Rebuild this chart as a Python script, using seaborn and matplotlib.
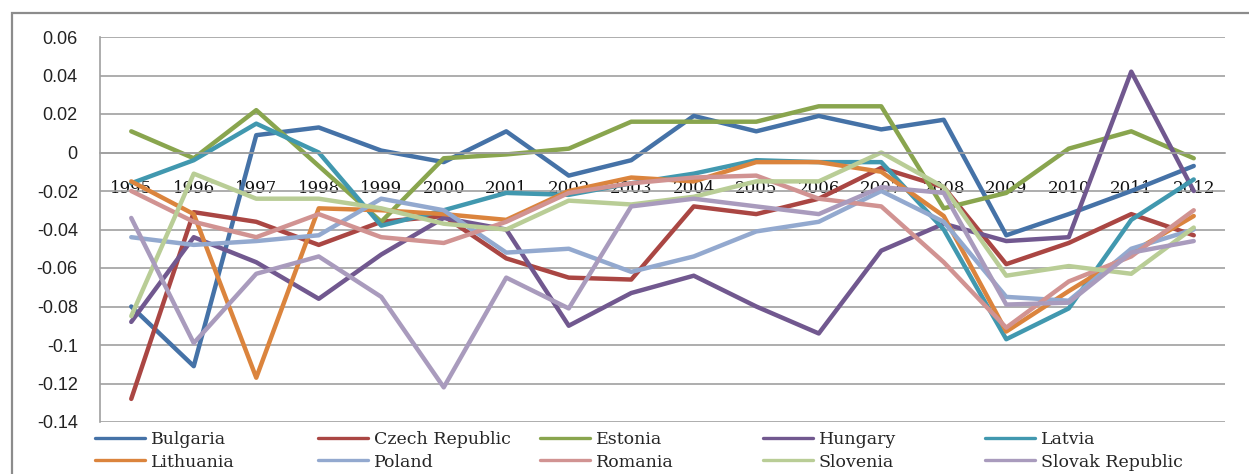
import numpy as np
import pandas as pd
import matplotlib
matplotlib.use("Agg")
import matplotlib.pyplot as plt
import seaborn as sns
from matplotlib.lines import Line2D
from matplotlib.patches import Rectangle

years = ["1995", "1996", "1997", "1998", "1999", "2000", "2001", "2002", "2003",
         "2004", "2005", "2006", "2007", "2008", "2009", "2010", "2011", "2012"]

countries = ["Bulgaria", "Czech Republic", "Estonia", "Hungary", "Latvia",
             "Lithuania", "Poland", "Romania", "Slovenia", "Slovak Republic"]

bulgaria = [-0.080, -0.111, 0.009, 0.013, 0.001, -0.005, 0.011, -0.012, -0.004,
            0.019, 0.011, 0.019, 0.012, 0.017, -0.043, -0.032, -0.020, -0.007]
czech = [-0.128, -0.031, -0.036, -0.048, -0.036, -0.033, -0.055, -0.065, -0.066,
         -0.028, -0.032, -0.024, -0.008, -0.018, -0.058, -0.047, -0.032, -0.043]
estonia = [0.011, -0.003, 0.022, -0.007, -0.036, -0.003, -0.001, 0.002, 0.016,
           0.016, 0.016, 0.024, 0.024, -0.029, -0.021, 0.002, 0.011, -0.003]
hungary = [-0.088, -0.044, -0.057, -0.076, -0.053, -0.034, -0.040, -0.090, -0.073,
           -0.064, -0.080, -0.094, -0.051, -0.037, -0.046, -0.044, 0.042, -0.020]
latvia = [-0.016, -0.004, 0.015, 0.000, -0.038, -0.030, -0.021, -0.022, -0.016,
          -0.011, -0.004, -0.005, -0.005, -0.040, -0.097, -0.081, -0.035, -0.014]
lithuania = [-0.015, -0.032, -0.117, -0.029, -0.030, -0.032, -0.035, -0.020, -0.013,
             -0.015, -0.005, -0.005, -0.010, -0.033, -0.093, -0.072, -0.052, -0.033]
poland = [-0.044, -0.048, -0.046, -0.043, -0.024, -0.030, -0.052, -0.050, -0.062,
          -0.054, -0.041, -0.036, -0.020, -0.036, -0.075, -0.077, -0.050, -0.040]
romania = [-0.020, -0.036, -0.044, -0.032, -0.044, -0.047, -0.036, -0.021, -0.016,
           -0.013, -0.012, -0.024, -0.028, -0.057, -0.091, -0.067, -0.054, -0.030]
slovenia = [-0.085, -0.011, -0.024, -0.024, -0.029, -0.037, -0.040, -0.025, -0.027,
            -0.023, -0.015, -0.015, 0.000, -0.018, -0.064, -0.059, -0.063, -0.039]
slovak = [-0.034, -0.099, -0.063, -0.054, -0.075, -0.122, -0.065, -0.081, -0.028,
          -0.024, -0.028, -0.032, -0.018, -0.021, -0.079, -0.078, -0.052, -0.046]

series = [bulgaria, czech, estonia, hungary, latvia,
          lithuania, poland, romania, slovenia, slovak]

colors = ["#4572A7", "#AA4643", "#89A54E", "#71588F", "#4198AF",
          "#DB843D", "#93A9CF", "#D19392", "#B9CD96", "#A99BBD"]

yticks = [0.06, 0.04, 0.02, 0, -0.02, -0.04, -0.06, -0.08, -0.1, -0.12, -0.14]

rows = []
for name, vals in zip(countries, series):
    for i, v in enumerate(vals):
        rows.append({"pos": i, "year": years[i], "value": v, "country": name})
df = pd.DataFrame(rows)

sns.set_style("white")
plt.rcParams["font.family"] = ["Liberation Sans", "DejaVu Sans"]

W, H = 1249, 474
gray = "#A0A0A0"

fig = plt.figure(figsize=(W / 100, H / 100), dpi=100)
ax = fig.add_axes([100 / W, 1 - 422 / H, 1125 / W, 385 / H])

sns.lineplot(data=df, x="pos", y="value", hue="country", hue_order=countries,
             palette=colors, linewidth=3.2, legend=False, ax=ax)

ax.set_xlim(-0.5, 17.5)
ax.set_ylim(-0.14, 0.06)
ax.set_xlabel("")
ax.set_ylabel("")

for s in ["top", "right"]:
    ax.spines[s].set_visible(False)
ax.spines["left"].set_color(gray)
ax.spines["left"].set_linewidth(1.2)
ax.spines["bottom"].set_position(("data", 0))
ax.spines["bottom"].set_color(gray)
ax.spines["bottom"].set_linewidth(1.2)

ax.set_yticks(yticks)
ax.set_yticklabels([f"{v:g}" for v in yticks])
ax.tick_params(axis="y", direction="out", length=5, width=1.2, color=gray,
               pad=11, labelsize=13, labelcolor="#222222")
ax.grid(axis="y", color=gray, linewidth=1.2)
ax.grid(axis="x", visible=False)

ax.set_xticks(np.arange(-0.5, 18, 1))
ax.set_xticklabels([])
ax.set_xticks(np.arange(len(years)), minor=True)
ax.set_xticklabels(years, minor=True, fontfamily="DejaVu Serif")
ax.tick_params(axis="x", which="major", direction="out", length=5, width=1.2, color=gray)
ax.tick_params(axis="x", which="minor", length=0, pad=20, labelsize=12, labelcolor="#111111")

# chart area border
fig.patches.append(Rectangle((12 / W, -0.1), 1.2, 1 - 13 / H + 0.1, fill=False,
                             edgecolor="#8C8C8C", linewidth=1.6,
                             transform=fig.transFigure, figure=fig))

# legend: 5 columns, 2 rows
col_x = [95, 318, 540, 763, 985]
for i, x in enumerate(col_x):
    idx = [i, i + 5]
    handles = [Line2D([], [], color=colors[k], linewidth=2.4) for k in idx]
    fig.legend(handles=handles, labels=[countries[k] for k in idx],
               loc="upper left", bbox_to_anchor=(x / W, 1 - 431 / H),
               frameon=False, borderpad=0, borderaxespad=0,
               handlelength=2.9, handletextpad=0.3, labelspacing=0.32,
               prop={"family": "DejaVu Serif", "size": 12.5})

fig.savefig("out.png", dpi=100)
